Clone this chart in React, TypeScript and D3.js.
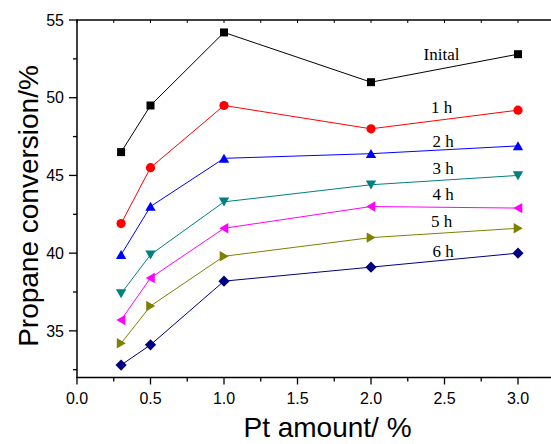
import React from "react";
import * as d3 from "d3";

// Pt loading (wt %) and propane conversion (%) after each time on stream
const ptAmount = [0.3, 0.5, 1.0, 2.0, 3.0];
const seriesNames = ["Inital", "1 h", "2 h", "3 h", "4 h", "5 h", "6 h"];
const initial = [46.5, 49.5, 54.2, 51.0, 52.8];
const after1h = [41.9, 45.5, 49.5, 48.0, 49.2];
const after2h = [39.9, 43.0, 46.1, 46.4, 46.9];
const after3h = [37.4, 39.9, 43.3, 44.4, 45.0];
const after4h = [35.7, 38.4, 41.6, 43.0, 42.9];
const after5h = [34.2, 36.6, 39.8, 41.0, 41.6];
const after6h = [32.8, 34.1, 38.2, 39.1, 40.0];
const xTickLabels = ["0.0", "0.5", "1.0", "1.5", "2.0", "2.5", "3.0"];
const yTickLabels = ["35", "40", "45", "50", "55"];

// label anchors (data coordinates) for the series annotations
const labelX = [2.48, 2.48, 2.49, 2.49, 2.49, 2.48, 2.49];
const labelY = [52.45, 49.0, 46.82, 45.1, 43.4, 41.7, 39.78];

const allSeries = [initial, after1h, after2h, after3h, after4h, after5h, after6h];
const colors = ["#000000", "#ff0000", "#0000ff", "#008080", "#ff00ff", "#808000", "#000080"];
const shapes = ["square", "circle", "triUp", "triDown", "triLeft", "triRight", "diamond"];

const W = 551;
const H = 444;

function markerPath(shape: string): string {
  switch (shape) {
    case "square":
      return "M-4,-4H4V4H-4Z";
    case "circle":
      return d3.arc()({ innerRadius: 0, outerRadius: 4.6, startAngle: 0, endAngle: 2 * Math.PI }) as string;
    case "triUp":
      return "M0,-4.7L5.2,4.3L-5.2,4.3Z";
    case "triDown":
      return "M0,4.7L5.2,-4.3L-5.2,-4.3Z";
    case "triLeft":
      return "M-4.7,0L4.3,-5.2L4.3,5.2Z";
    case "triRight":
      return "M4.7,0L-4.3,-5.2L-4.3,5.2Z";
    default:
      return "M0,-5.6L5.6,0L0,5.6L-5.6,0Z";
  }
}

export default function App() {
  const x = d3.scaleLinear().domain([0, 3.25]).range([77, 554.75]);
  const y = d3.scaleLinear().domain([32, 55]).range([377.5, 20]);

  const line = d3
    .line<[number, number]>()
    .x((d) => x(d[0]))
    .y((d) => y(d[1]));

  const xMajor = xTickLabels.map((t) => +t);
  const xMinor = d3.range(0.25, 3.26, 0.5);
  const yMajor = yTickLabels.map((t) => +t);
  const yMinor = d3.range(32.5, 55, 5);
  const topTicks = d3.range(0, 3.26, 0.25);

  const axisFont = "'Liberation Sans', Arial, sans-serif";
  const labelFont = "'Liberation Serif', 'Times New Roman', serif";

  return (
    <svg
      width={W}
      height={H}
      style={{ position: "absolute", left: 0, top: 0, background: "#fff" }}
    >
      <rect x={0} y={0} width={W} height={H} fill="#ffffff" />

      {/* series lines */}
      {allSeries.map((vals, i) => (
        <path
          key={"l" + i}
          d={line(ptAmount.map((p, j) => [p, vals[j]] as [number, number])) as string}
          fill="none"
          stroke={colors[i]}
          strokeWidth={1}
        />
      ))}

      {/* markers */}
      {allSeries.map((vals, i) =>
        vals.map((v, j) => (
          <path
            key={"m" + i + "-" + j}
            d={markerPath(shapes[i])}
            transform={`translate(${x(ptAmount[j])},${y(v)})`}
            fill={colors[i]}
          />
        ))
      )}

      {/* series annotations */}
      {seriesNames.map((name, i) => (
        <text
          key={"t" + i}
          x={x(labelX[i])}
          y={y(labelY[i])}
          textAnchor="middle"
          fontFamily={labelFont}
          fontSize={17}
          fill="#000"
        >
          {name}
        </text>
      ))}

      {/* top frame */}
      <line x1={x(0)} x2={W} y1={y(55)} y2={y(55)} stroke="#000" strokeWidth={1.3} />
      {topTicks.map((t) => (
        <line key={"tt" + t} x1={x(t)} x2={x(t)} y1={y(55)} y2={y(55) + 3} stroke="#000" strokeWidth={1} />
      ))}

      {/* x axis */}
      <line x1={x(0) - 0.6} x2={W} y1={y(32)} y2={y(32)} stroke="#000" strokeWidth={1.5} />
      {xMajor.map((t) => (
        <line key={"xM" + t} x1={x(t)} x2={x(t)} y1={y(32)} y2={y(32) + 7} stroke="#000" strokeWidth={1.3} />
      ))}
      {xMinor.map((t) => (
        <line key={"xm" + t} x1={x(t)} x2={x(t)} y1={y(32)} y2={y(32) + 4} stroke="#000" strokeWidth={1.3} />
      ))}
      {xTickLabels.map((lab) => (
        <text
          key={"xl" + lab}
          x={x(+lab)}
          y={403.5}
          textAnchor="middle"
          fontFamily={axisFont}
          fontSize={16}
          fill="#000"
        >
          {lab}
        </text>
      ))}

      {/* y axis */}
      <line x1={x(0)} x2={x(0)} y1={y(55) - 0.6} y2={y(32) + 0.6} stroke="#000" strokeWidth={1.5} />
      {yMajor.map((t) => (
        <line key={"yM" + t} x1={x(0) - 8} x2={x(0)} y1={y(t)} y2={y(t)} stroke="#000" strokeWidth={1.3} />
      ))}
      {yMinor.map((t) => (
        <line key={"ym" + t} x1={x(0) - 4} x2={x(0)} y1={y(t)} y2={y(t)} stroke="#000" strokeWidth={1.3} />
      ))}
      {yTickLabels.map((lab) => (
        <text
          key={"yl" + lab}
          x={64}
          y={y(+lab)}
          dy="0.36em"
          textAnchor="end"
          fontFamily={axisFont}
          fontSize={16}
          fill="#000"
        >
          {lab}
        </text>
      ))}

      {/* axis titles */}
      <text
        x={327.5}
        y={437}
        textAnchor="middle"
        fontFamily={axisFont}
        fontSize={28}
        fill="#000"
      >
        Pt amount/ %
      </text>
      <text
        transform="translate(37.5,206) rotate(-90)"
        textAnchor="middle"
        fontFamily={axisFont}
        fontSize={28}
        fill="#000"
      >
        Propane conversion/%
      </text>
    </svg>
  );
}
